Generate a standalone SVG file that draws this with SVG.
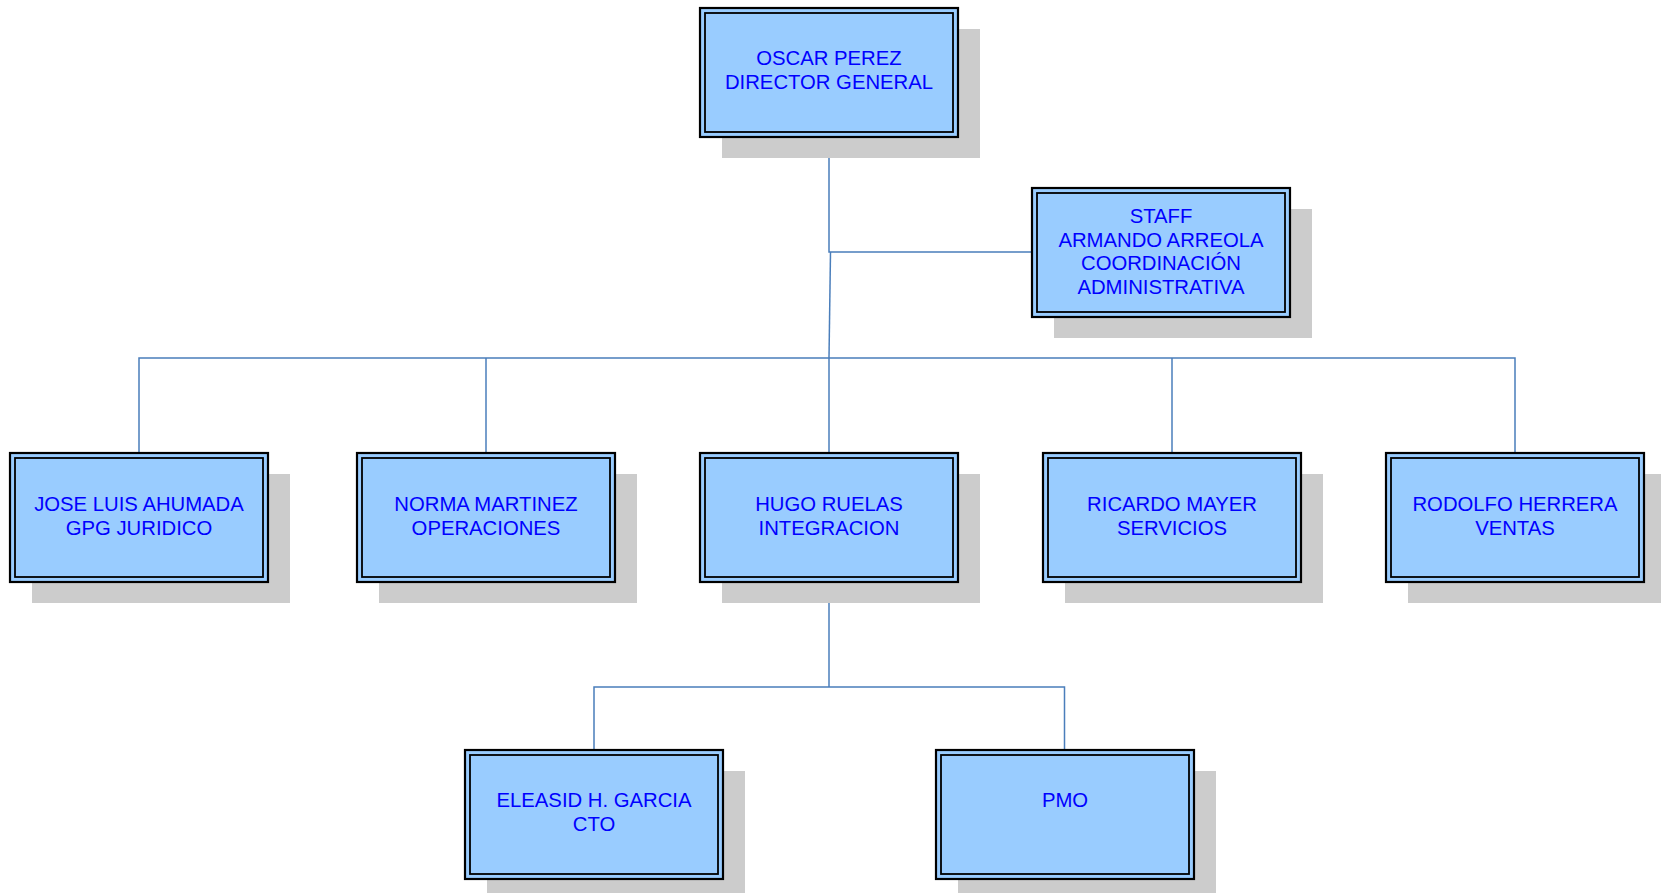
<svg xmlns="http://www.w3.org/2000/svg" width="1661" height="893" viewBox="0 0 1661 893">
<style>
.shadow{fill:#cccccc;stroke:none}
.box{fill:#99ccff;stroke:#000;stroke-width:2.2}
.inner{fill:none;stroke:#000;stroke-width:1.8}
.lbl{font-family:"Liberation Sans",Arial,sans-serif;font-size:20.3px;fill:#0000ff;text-anchor:middle}
.conn{fill:none;stroke:#4a7ebb;stroke-width:1.5}
</style>
<rect width="1661" height="893" fill="#ffffff"/>
<g id="connectors">
<path class="conn" d="M829,137 V252 H1032"/>
<path class="conn" d="M830.5,252 L829,358"/>
<path class="conn" d="M139,453 V358 H1515 V453"/>
<path class="conn" d="M486,358 V453"/>
<path class="conn" d="M829,358 V453"/>
<path class="conn" d="M1172,358 V453"/>
<path class="conn" d="M829,582 V687"/>
<path class="conn" d="M594,750 V687 H1064.5 V750"/>
</g>
<g id="n-oscar">
<rect class="shadow" x="722" y="29" width="258" height="129"/>
<rect class="box" x="700" y="8" width="258" height="129"/>
<rect class="inner" x="705" y="13" width="248" height="119"/>
<text class="lbl"><tspan x="829" y="65">OSCAR PEREZ</tspan><tspan x="829" y="89">DIRECTOR GENERAL</tspan></text>
</g>
<g id="n-staff">
<rect class="shadow" x="1054" y="209" width="258" height="129"/>
<rect class="box" x="1032" y="188" width="258" height="129"/>
<rect class="inner" x="1037" y="193" width="248" height="119"/>
<text class="lbl"><tspan x="1161" y="223">STAFF</tspan><tspan x="1161" y="246.5">ARMANDO ARREOLA</tspan><tspan x="1161" y="270">COORDINACIÓN</tspan><tspan x="1161" y="293.5">ADMINISTRATIVA</tspan></text>
</g>
<g id="n-jose">
<rect class="shadow" x="32" y="474" width="258" height="129"/>
<rect class="box" x="10" y="453" width="258" height="129"/>
<rect class="inner" x="15" y="458" width="248" height="119"/>
<text class="lbl"><tspan x="139" y="511">JOSE LUIS AHUMADA</tspan><tspan x="139" y="535">GPG JURIDICO</tspan></text>
</g>
<g id="n-norma">
<rect class="shadow" x="379" y="474" width="258" height="129"/>
<rect class="box" x="357" y="453" width="258" height="129"/>
<rect class="inner" x="362" y="458" width="248" height="119"/>
<text class="lbl"><tspan x="486" y="511">NORMA MARTINEZ</tspan><tspan x="486" y="535">OPERACIONES</tspan></text>
</g>
<g id="n-hugo">
<rect class="shadow" x="722" y="474" width="258" height="129"/>
<rect class="box" x="700" y="453" width="258" height="129"/>
<rect class="inner" x="705" y="458" width="248" height="119"/>
<text class="lbl"><tspan x="829" y="511">HUGO RUELAS</tspan><tspan x="829" y="535">INTEGRACION</tspan></text>
</g>
<g id="n-ricardo">
<rect class="shadow" x="1065" y="474" width="258" height="129"/>
<rect class="box" x="1043" y="453" width="258" height="129"/>
<rect class="inner" x="1048" y="458" width="248" height="119"/>
<text class="lbl"><tspan x="1172" y="511">RICARDO MAYER</tspan><tspan x="1172" y="535">SERVICIOS</tspan></text>
</g>
<g id="n-rodolfo">
<rect class="shadow" x="1408" y="474" width="258" height="129"/>
<rect class="box" x="1386" y="453" width="258" height="129"/>
<rect class="inner" x="1391" y="458" width="248" height="119"/>
<text class="lbl"><tspan x="1515" y="511">RODOLFO HERRERA</tspan><tspan x="1515" y="535">VENTAS</tspan></text>
</g>
<g id="n-eleasid">
<rect class="shadow" x="487" y="771" width="258" height="129"/>
<rect class="box" x="465" y="750" width="258" height="129"/>
<rect class="inner" x="470" y="755" width="248" height="119"/>
<text class="lbl"><tspan x="594" y="807">ELEASID H. GARCIA</tspan><tspan x="594" y="831">CTO</tspan></text>
</g>
<g id="n-pmo">
<rect class="shadow" x="958" y="771" width="258" height="129"/>
<rect class="box" x="936" y="750" width="258" height="129"/>
<rect class="inner" x="941" y="755" width="248" height="119"/>
<text class="lbl"><tspan x="1065" y="807">PMO</tspan></text>
</g>
</svg>
